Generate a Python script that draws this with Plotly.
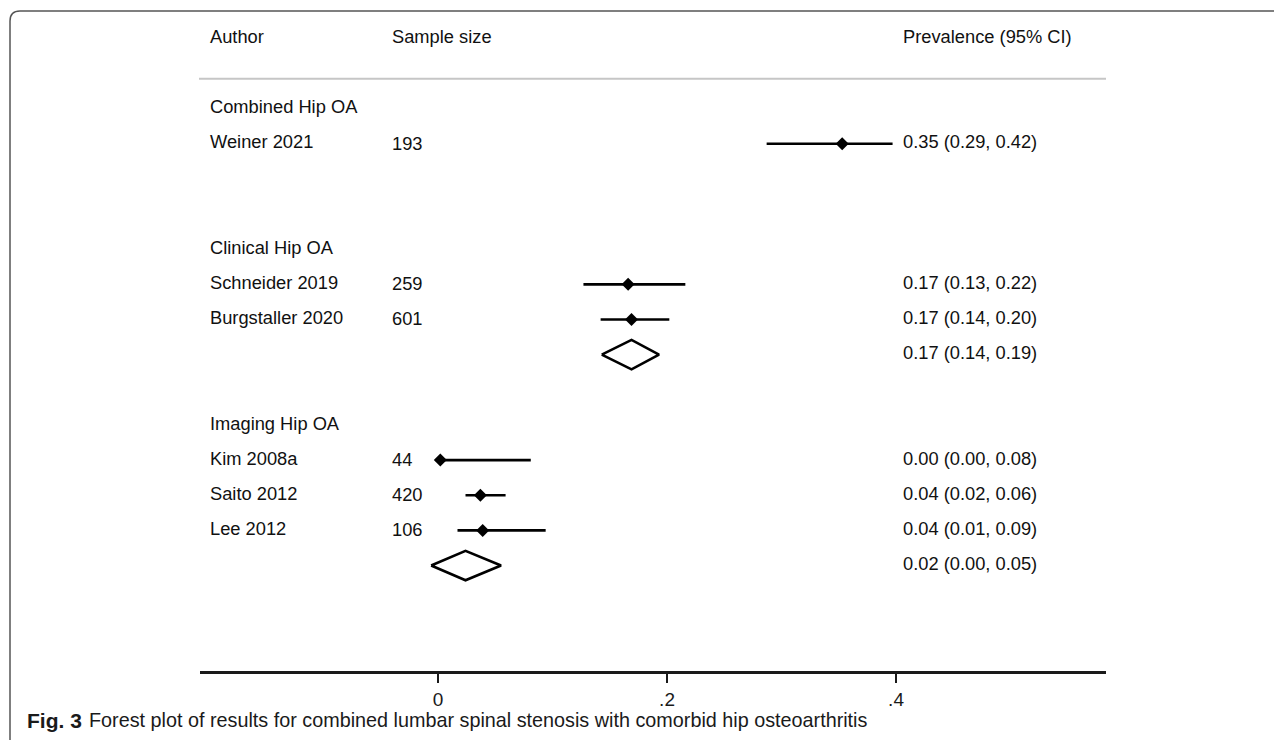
import plotly.graph_objects as go

# ---------------- data ----------------
groups = ["Combined Hip OA", "Clinical Hip OA", "Imaging Hip OA"]
group_sizes = [1, 2, 3]
authors = ["Weiner 2021", "Schneider 2019", "Burgstaller 2020", "Kim 2008a", "Saito 2012", "Lee 2012"]
sample_sizes = [193, 259, 601, 44, 420, 106]
est = [0.353, 0.166, 0.169, 0.002, 0.037, 0.039]
ci_lo = [0.287, 0.127, 0.142, -0.002, 0.024, 0.017]
ci_hi = [0.397, 0.216, 0.202, 0.081, 0.059, 0.094]
study_labels = ["0.35 (0.29, 0.42)", "0.17 (0.13, 0.22)", "0.17 (0.14, 0.20)",
                "0.00 (0.00, 0.08)", "0.04 (0.02, 0.06)", "0.04 (0.01, 0.09)"]
pooled_groups = ["Clinical Hip OA", "Imaging Hip OA"]
pooled_est = [0.169, 0.024]
pooled_lo = [0.143, -0.006]
pooled_hi = [0.193, 0.055]
pooled_labels = ["0.17 (0.14, 0.19)", "0.02 (0.00, 0.05)"]
tick_vals = [0, 0.2, 0.4]
tick_text = ["0", ".2", ".4"]

# ---------------- layout geometry ----------------
OFF = 8  # page body margin offset
W, H = 1282 - OFF, 740 - OFF
ML, MR, MT, MB = 200 - OFF, 176, 17 - OFF, 69
PW, PH = W - ML - MR, H - MT - MB
XR = [-0.2079, 0.5834]
YR = [16.0, -2.606]

def px_to_paper_x(px):  # px in page coordinates
    return (px - OFF - ML) / PW

def py_to_paper_y(py):
    return (H - MB - (py - OFF)) / PH

def px_to_data_x(px):
    return XR[0] + (px - OFF - ML) / PW * (XR[1] - XR[0])

X_AUTHOR = px_to_data_x(210)
X_SAMPLE = px_to_data_x(392)
X_PREV = px_to_data_x(903)

# compute row positions
study_rows, group_rows, pooled_rows = [], [], []
r = 0
for g, n in zip(groups, group_sizes):
    group_rows.append(r)
    r += 1
    for _ in range(n):
        study_rows.append(r)
        r += 1
    if g in pooled_groups:
        pooled_rows.append(r)
        r += 1
    r += 1 if g in pooled_groups else 2

FONT = "Liberation Sans, Arial, Helvetica, sans-serif"
NARROW = "Liberation Sans Narrow, Arial Narrow, sans-serif"
TXT = dict(family=FONT, size=18.3, color="#111111")

fig = go.Figure()

# CI lines
for i in range(len(authors)):
    fig.add_trace(go.Scatter(x=[ci_lo[i], ci_hi[i]], y=[study_rows[i]] * 2, mode="lines",
                             line=dict(color="black", width=2.6), hoverinfo="skip", showlegend=False))
# point estimates
fig.add_trace(go.Scatter(x=est, y=study_rows, mode="markers",
                         marker=dict(symbol="diamond", size=10, color="black"),
                         showlegend=False))
# pooled diamonds
DH = 0.42
for j in range(len(pooled_est)):
    rr = pooled_rows[j]
    fig.add_trace(go.Scatter(
        x=[pooled_lo[j], pooled_est[j], pooled_hi[j], pooled_est[j], pooled_lo[j]],
        y=[rr, rr - DH, rr, rr + DH, rr], mode="lines", fill="toself", fillcolor="white",
        line=dict(color="black", width=2.6), showlegend=False, hoverinfo="skip"))

# text columns
def text_trace(xs, ys, texts):
    return go.Scatter(x=xs, y=ys, mode="text", text=texts, textposition="middle right",
                      textfont=TXT, showlegend=False, hoverinfo="skip")

fig.add_trace(text_trace([X_AUTHOR, X_SAMPLE, X_PREV], [-2, -2, -2],
                         ["Author", "Sample size", "Prevalence (95% CI)"]))
fig.add_trace(text_trace([X_AUTHOR] * len(groups), group_rows, groups))
fig.add_trace(text_trace([X_AUTHOR] * len(authors), study_rows, authors))
fig.add_trace(text_trace([X_SAMPLE] * len(sample_sizes), [v + 0.04 for v in study_rows],
                         [str(s) for s in sample_sizes]))
fig.add_trace(text_trace([X_PREV] * len(study_labels), study_rows, study_labels))
fig.add_trace(text_trace([X_PREV] * len(pooled_labels), pooled_rows, pooled_labels))

shapes = []
# header separator
shapes.append(dict(type="line", xref="paper", yref="y", x0=px_to_paper_x(199), x1=1.0,
                   y0=-0.85, y1=-0.85, line=dict(color="#c6c6c6", width=2)))
# outer rounded frame
fx0, fy0, rad = 10, 11, 10
path = (f"M {px_to_paper_x(1290)},{py_to_paper_y(fy0)} "
        f"L {px_to_paper_x(fx0 + rad)},{py_to_paper_y(fy0)} "
        f"Q {px_to_paper_x(fx0)},{py_to_paper_y(fy0)} {px_to_paper_x(fx0)},{py_to_paper_y(fy0 + rad)} "
        f"L {px_to_paper_x(fx0)},{py_to_paper_y(745)}")
shapes.append(dict(type="path", xref="paper", yref="paper", path=path,
                   line=dict(color="#555555", width=1.5)))

fig.update_layout(
    width=W, height=H,
    margin=dict(l=ML, r=MR, t=MT, b=MB, pad=0),
    paper_bgcolor="white", plot_bgcolor="white",
    shapes=shapes,
    xaxis=dict(range=XR, showgrid=False, zeroline=False, showline=True, linecolor="#1a1a1a",
               linewidth=2.5, ticks="outside", ticklen=9, tickwidth=2, tickcolor="#1a1a1a",
               tickvals=tick_vals, ticktext=tick_text,
               tickfont=dict(family=NARROW, size=19, color="#1a1a1a")),
    yaxis=dict(range=YR, showgrid=False, zeroline=False, showline=False, showticklabels=False, ticks=""),
    annotations=[
        dict(xref="paper", yref="paper", x=px_to_paper_x(25), y=py_to_paper_y(720),
             xanchor="left", yanchor="middle", showarrow=False, text="<b>Fig. 3</b>",
             font=dict(family=FONT, size=21, color="#1a1a1a")),
        dict(xref="paper", yref="paper", x=px_to_paper_x(87), y=py_to_paper_y(720),
             xanchor="left", yanchor="middle", showarrow=False,
             text="Forest plot of results for combined lumbar spinal stenosis with comorbid hip osteoarthritis",
             font=dict(family=NARROW, size=19.8, color="#1a1a1a")),
    ],
)

fig.write_html("out.html")
